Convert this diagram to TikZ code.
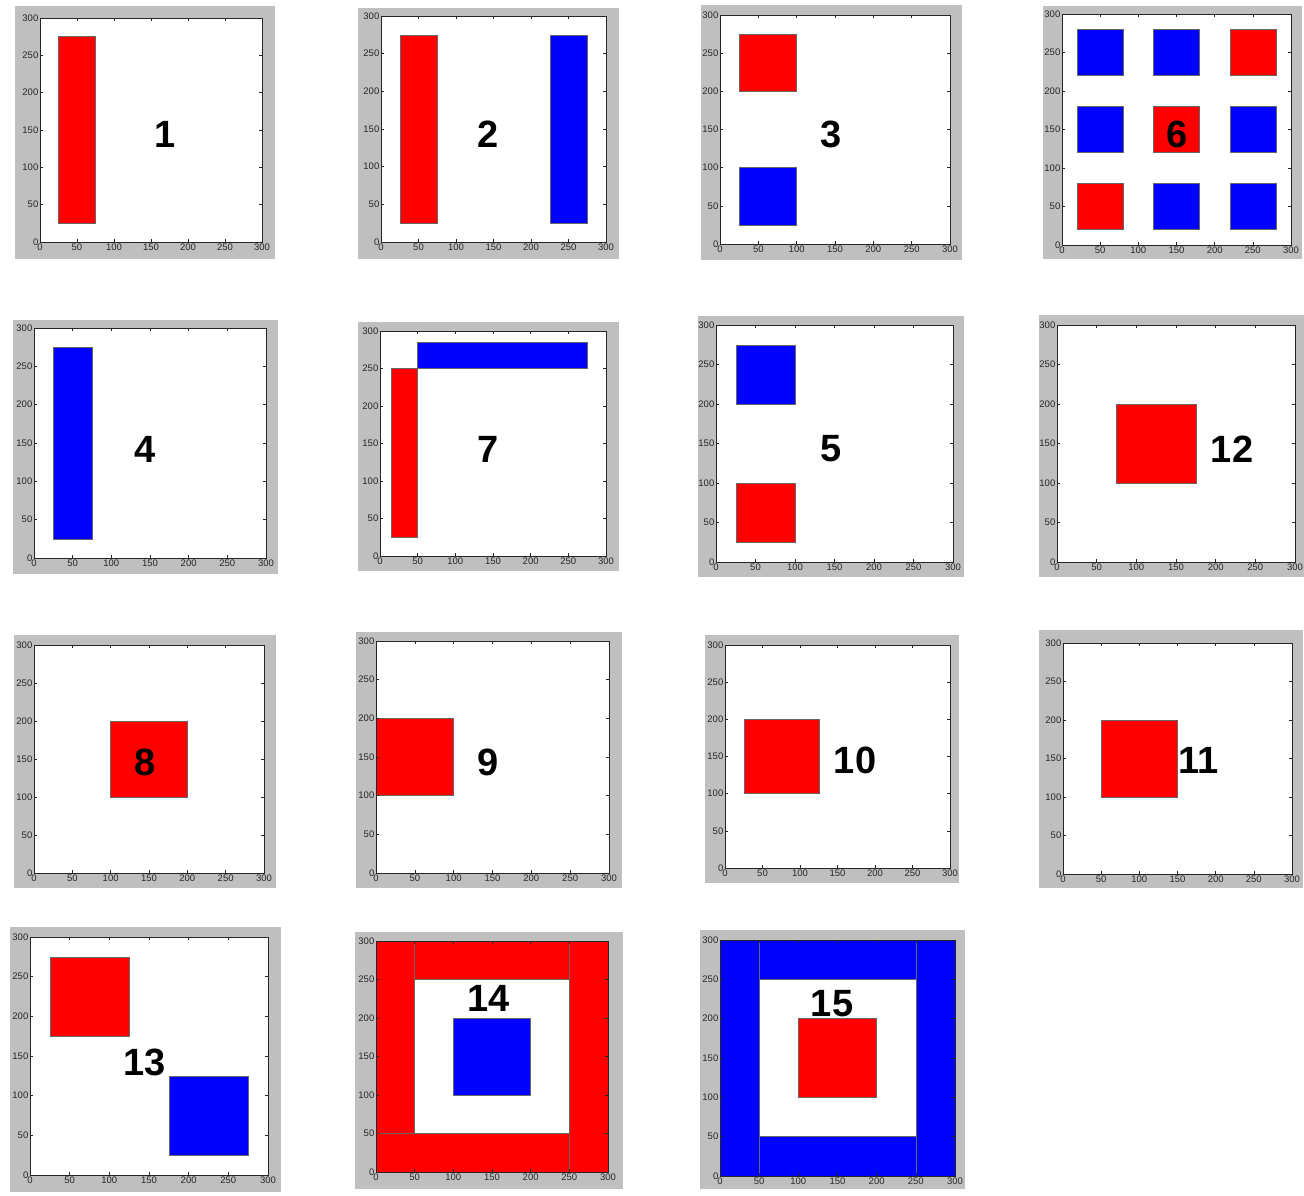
\documentclass[tikz,border=0pt]{standalone}
\usepackage{fontspec}
\setmainfont{Liberation Sans}

\definecolor{framegray}{RGB}{191,191,191}
\definecolor{patchred}{RGB}{255,0,0}
\definecolor{patchblue}{RGB}{0,0,255}

% white plot area, then spines, ticks and tick labels on top
\newcommand{\axesbg}{\fill[white] (0,0) rectangle (300,300);}
\newcommand{\axesfg}{%
  \foreach \t in {0,50,...,300}{
    \draw[tickmark] (\t,0) -- ++(0pt,3pt);
    \draw[tickmark] (\t,300) -- ++(0pt,-3pt);
    \draw[tickmark] (0,\t) -- ++(3pt,0pt);
    \draw[tickmark] (300,\t) -- ++(-3pt,0pt);
    \node[ticklab, anchor=north] (xl\t) at (\t,0) {\t};
    \node[ticklab, anchor=east] (yl\t) at (0,\t) {\t};
  }
  \draw[spine] (0,0) rectangle (300,300);
}

\begin{document}
\begin{tikzpicture}[x=1pt, y=-1pt,
  graybg/.style={fill=framegray},
  axes/.style n args={4}{shift={(#1,#4)}, x={({(#3-#1)/300*1pt},0pt)}, y={(0pt,{(#4-#2)/300*1pt})}},
  spine/.style={draw=black!85, line width=0.8pt},
  tickmark/.style={draw=black!85, line width=0.5pt},
  ticklab/.style={font=\fontsize{9.5}{9.5}\selectfont, inner sep=1.5pt, text=black!85},
  redbox/.style={fill=patchred, draw=black!60, line width=0.45pt},
  bluebox/.style={fill=patchblue, draw=black!60, line width=0.45pt},
  bignum/.style={font=\fontsize{38}{38}\selectfont\bfseries, inner sep=0pt}]
\useasboundingbox[fill=white] (0,0) rectangle (1304,1196);

% row 1
\fill[graybg] (15,6) rectangle (275,259);
\begin{scope}[axes={40}{18}{262}{242}]
  \axesbg
  \draw[redbox] (25,25) rectangle (75,275);
  \axesfg
\end{scope}
\node[bignum] (n1) at (165,134) {1};

\fill[graybg] (358,8) rectangle (619,259);
\begin{scope}[axes={381}{16}{606}{242}]
  \axesbg
  \draw[redbox] (25,25) rectangle (75,275);
  \draw[bluebox] (225,25) rectangle (275,275);
  \axesfg
\end{scope}
\node[bignum] (n2) at (488,134) {2};

\fill[graybg] (701,5) rectangle (962,260);
\begin{scope}[axes={720}{15}{950}{244}]
  \axesbg
  \draw[redbox] (25,200) rectangle (100,275);
  \draw[bluebox] (25,25) rectangle (100,100);
  \axesfg
\end{scope}
\node[bignum] (n3) at (831,134) {3};

\fill[graybg] (1043,6) rectangle (1302,259);
\begin{scope}[axes={1062}{14}{1291}{245}]
  \axesbg
  \foreach \cx/\cy/\col in {20/220/bluebox, 120/220/bluebox, 220/220/redbox,
                            20/120/bluebox, 120/120/redbox, 220/120/bluebox,
                            20/20/redbox, 120/20/bluebox, 220/20/bluebox}
    \draw[\col] (\cx,\cy) rectangle ++(60,60);
  \axesfg
\end{scope}
\node[bignum] (n6) at (1177,134) {6};

% row 2
\fill[graybg] (13,320) rectangle (278,574);
\begin{scope}[axes={34}{328}{266}{558}]
  \axesbg
  \draw[bluebox] (25,25) rectangle (75,275);
  \axesfg
\end{scope}
\node[bignum] (n4) at (145,449) {4};

\fill[graybg] (358,322) rectangle (619,571);
\begin{scope}[axes={380}{331}{606}{556}]
  \axesbg
  \draw[redbox] (15,25) rectangle (50,250);
  \draw[bluebox] (50,250) rectangle (275,285);
  \axesfg
\end{scope}
\node[bignum] (n7) at (488,449) {7};

\fill[graybg] (698,316) rectangle (964,577);
\begin{scope}[axes={716}{325}{953}{562}]
  \axesbg
  \draw[bluebox] (25,200) rectangle (100,275);
  \draw[redbox] (25,25) rectangle (100,100);
  \axesfg
\end{scope}
\node[bignum] (n5) at (831,449) {5};

\fill[graybg] (1039,315) rectangle (1304,577);
\begin{scope}[axes={1057}{325}{1295}{562}]
  \axesbg
  \draw[redbox] (75,100) rectangle (175,200);
  \axesfg
\end{scope}
\node[bignum] (n12) at (1232,449) {12};

% row 3
\fill[graybg] (14,635) rectangle (276,888);
\begin{scope}[axes={34}{645}{264}{873}]
  \axesbg
  \draw[redbox] (100,100) rectangle (200,200);
  \axesfg
\end{scope}
\node[bignum] (n8) at (145,762) {8};

\fill[graybg] (356,632) rectangle (622,888);
\begin{scope}[axes={376}{641}{609}{873}]
  \axesbg
  \draw[redbox] (0,100) rectangle (100,200);
  \axesfg
\end{scope}
\node[bignum] (n9) at (488,762) {9};

\fill[graybg] (705,635) rectangle (959,883);
\begin{scope}[axes={725}{645}{950}{868}]
  \axesbg
  \draw[redbox] (25,100) rectangle (125,200);
  \axesfg
\end{scope}
\node[bignum] (n10) at (855,760) {10};

\fill[graybg] (1039,630) rectangle (1303,888);
\begin{scope}[axes={1063}{643}{1292}{874}]
  \axesbg
  \draw[redbox] (50,100) rectangle (150,200);
  \axesfg
\end{scope}
\node[bignum] (n11) at (1199,760) {11};

% row 4
\fill[graybg] (10,927) rectangle (281,1192);
\begin{scope}[axes={30}{937}{268}{1175}]
  \axesbg
  \draw[redbox] (25,175) rectangle (125,275);
  \draw[bluebox] (175,25) rectangle (275,125);
  \axesfg
\end{scope}
\node[bignum] (n13) at (145,1062) {13};

\fill[graybg] (355,932) rectangle (623,1189);
\begin{scope}[axes={376}{941}{608}{1172}]
  \axesbg
  \draw[redbox] (0,50) rectangle (50,300);
  \draw[redbox] (50,250) rectangle (250,300);
  \draw[redbox] (250,0) rectangle (300,300);
  \draw[redbox] (0,0) rectangle (250,50);
  \draw[bluebox] (100,100) rectangle (200,200);
  \axesfg
\end{scope}
\node[bignum] (n14) at (489,998) {14};

\fill[graybg] (700,930) rectangle (965,1189);
\begin{scope}[axes={720}{940}{955}{1176}]
  \axesbg
  \draw[bluebox] (0,0) rectangle (50,300);
  \draw[bluebox] (250,0) rectangle (300,300);
  \draw[bluebox] (50,250) rectangle (250,300);
  \draw[bluebox] (50,0) rectangle (250,50);
  \draw[redbox] (100,100) rectangle (200,200);
  \axesfg
\end{scope}
\node[bignum] (n15) at (832,1004) {15};
\end{tikzpicture}
\end{document}
